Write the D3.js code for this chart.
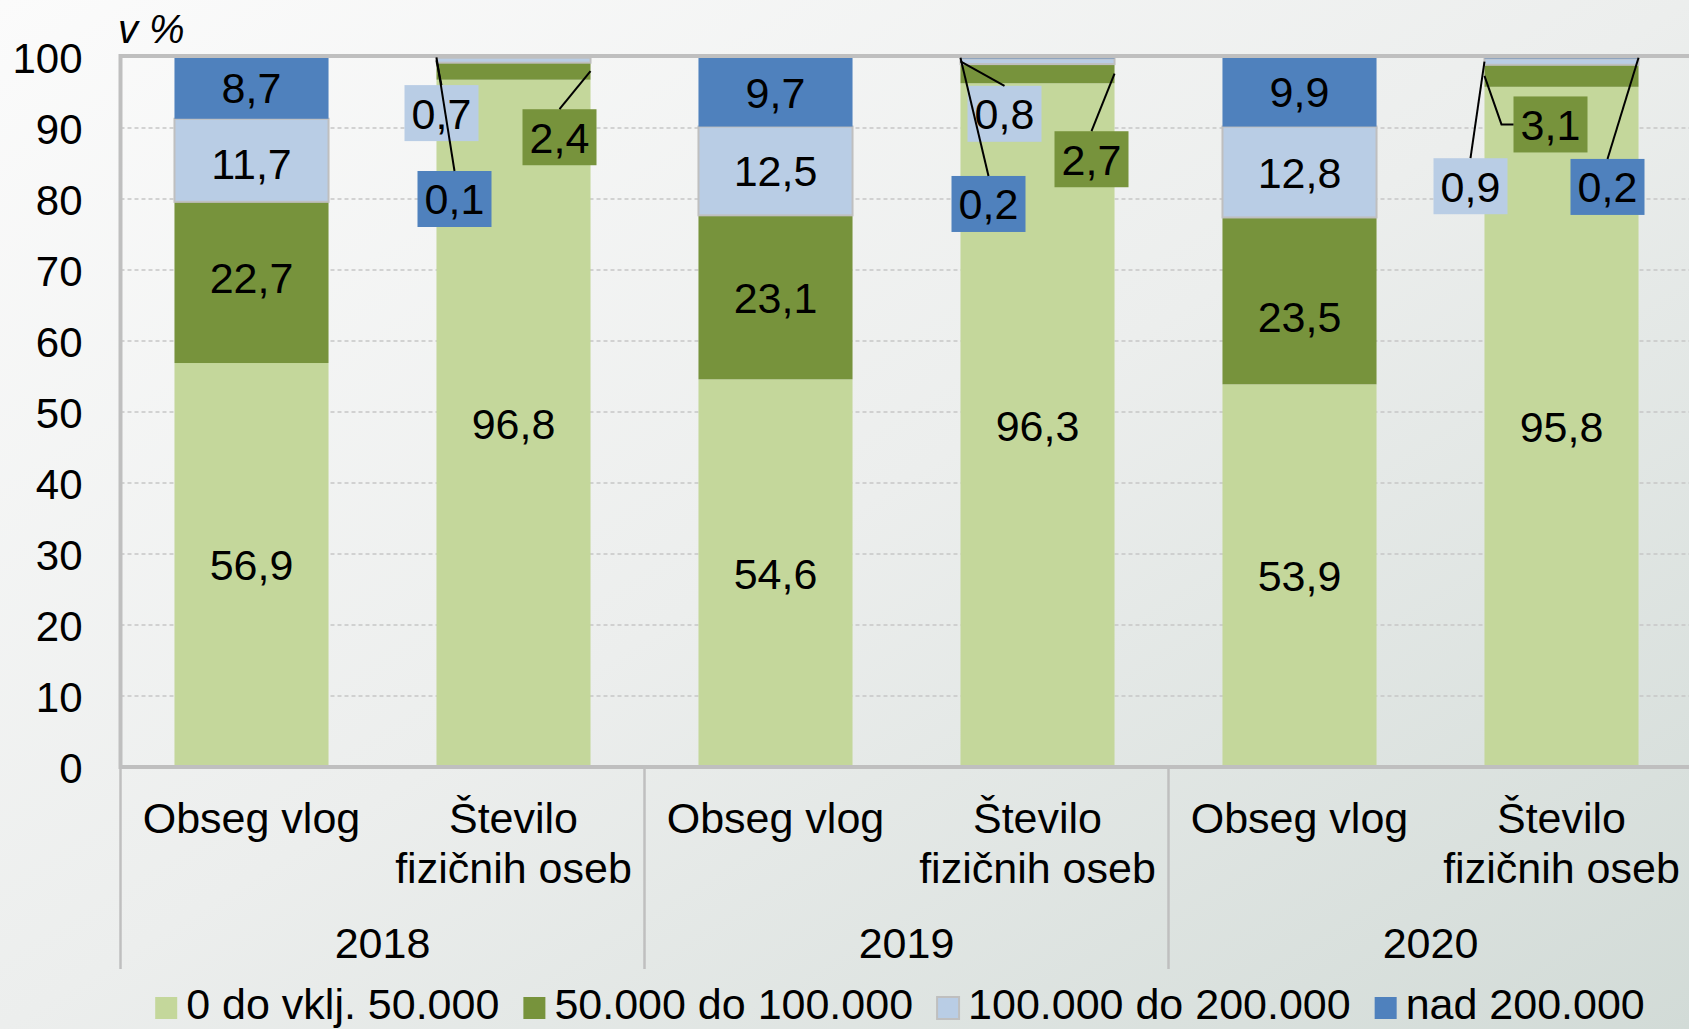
<!DOCTYPE html>
<meta charset="utf-8">
<style>
  body { margin: 0; }
  text { font-family: "Liberation Sans", Arial, sans-serif; fill: #000; }
</style>
<svg width="1689" height="1029"></svg>
<script src="https://cdn.jsdelivr.net/npm/d3@7"></script>
<script>

var years = ["2018", "2019", "2020"];
var measures = [["Obseg vlog"], ["Število", "fizičnih oseb"]];
var keys = ["0 do vklj. 50.000", "50.000 do 100.000", "100.000 do 200.000", "nad 200.000"];

// one value per bar: 2018 obseg, 2018 stevilo, 2019 obseg, ...
var upTo50k   = [56.9, 96.8, 54.6, 96.3, 53.9, 95.8];
var to100k    = [22.7, 2.4, 23.1, 2.7, 23.5, 3.1];
var to200k    = [11.7, 0.7, 12.5, 0.8, 12.8, 0.9];
var over200k  = [8.7, 0.1, 9.7, 0.2, 9.9, 0.2];
var yTicks = [0, 10, 20, 30, 40, 50, 60, 70, 80, 90, 100];

var colors = ["#c4d79b", "#77933c", "#b9cde5", "#4f81bd"];

// small slices get a label box beside the bar (dx in px from bar centre, v = box centre on y scale)
var callouts = [
  {bar: 1, s: 2, dx: -72, v: 92.1},
  {bar: 1, s: 3, dx: -59, v: 80},
  {bar: 1, s: 1, dx: 46, v: 88.7},
  {bar: 3, s: 2, dx: -33, v: 92},
  {bar: 3, s: 3, dx: -49, v: 79.3},
  {bar: 3, s: 1, dx: 54, v: 85.6},
  {bar: 5, s: 1, dx: -11, v: 90.5, elbow: true},
  {bar: 5, s: 2, dx: -91, v: 81.8},
  {bar: 5, s: 3, dx: 46, v: 81.7}
];

// excel doesn't quite centre some of the in-bar labels
var labelNudge = {"0-1": -5, "0-2": 3, "4-1": 16};

var svg = d3.select("svg"),
    width = 1689,
    height = 1029,
    x0 = 120.5,
    x1 = x0 + 6 * 262,
    fs = 43;

var rows = upTo50k.map(function(v, i) {
  var r = {bar: i, year: years[Math.floor(i / 2)], measure: measures[i % 2]};
  r[keys[0]] = upTo50k[i];
  r[keys[1]] = to100k[i];
  r[keys[2]] = to200k[i];
  r[keys[3]] = over200k[i];
  return r;
});

var series = d3.stack().keys(keys)(rows);

var x = d3.scaleBand()
    .domain(rows.map(function(d) { return d.bar; }))
    .range([x0, x1])
    .paddingInner(0.412)
    .paddingOuter(0.206);

var xYear = d3.scaleBand().domain(years).range([x0, x1]);

var y = d3.scaleLinear().domain([0, 100]).range([767, 57]);

var fmt = function(v) { return d3.format(".1f")(v).replace(".", ","); };

// background
var defs = svg.append("defs");
var grad = defs.append("linearGradient").attr("id", "bg")
    .attr("x1", 0).attr("y1", 0).attr("x2", 1).attr("y2", 1);
grad.append("stop").attr("offset", 0).attr("stop-color", "#fbfbfb");
grad.append("stop").attr("offset", 0.5).attr("stop-color", "#eceeed");
grad.append("stop").attr("offset", 1).attr("stop-color", "#d2dbd7");
svg.append("rect").attr("width", width).attr("height", height).attr("fill", "url(#bg)");

// gridlines
svg.append("g").selectAll("line")
  .data(yTicks.filter(function(t) { return t > 0 && t < 100; }))
  .join("line")
    .attr("x1", x0).attr("x2", x1)
    .attr("y1", function(d) { return y(d); })
    .attr("y2", function(d) { return y(d); })
    .attr("stroke", "#c6c6c6")
    .attr("stroke-width", 1.3)
    .attr("stroke-dasharray", "4,3");

// bars
svg.append("g").selectAll("g")
  .data(series)
  .join("g")
    .attr("fill", function(d, i) { return colors[i]; })
    .attr("stroke", function(d, i) { return i == 2 ? "#bfbfbf" : "none"; })
    .attr("stroke-width", 2)
  .selectAll("rect")
  .data(function(d) { return d; })
  .join("rect")
    .attr("x", function(d) { return x(d.data.bar); })
    .attr("width", x.bandwidth())
    .attr("y", function(d) { return y(d[1]); })
    .attr("height", function(d) { return y(d[0]) - y(d[1]); });

// labels inside bars
svg.append("g").selectAll("g")
  .data(series)
  .join("g")
  .selectAll("text")
  .data(function(d, si) {
    return d.filter(function(p) { return p[1] - p[0] >= 5; })
            .map(function(p) { p.key = p.data.bar + "-" + si; return p; });
  })
  .join("text")
    .attr("x", function(d) { return x(d.data.bar) + x.bandwidth() / 2; })
    .attr("y", function(d) { return y((d[0] + d[1]) / 2) + (labelNudge[d.key] || 0); })
    .attr("dy", "0.36em")
    .attr("text-anchor", "middle")
    .attr("font-size", fs)
    .text(function(d) { return fmt(d[1] - d[0]); });

// plot frame
svg.append("rect")
    .attr("x", x0).attr("y", y(100) - 1)
    .attr("width", x1 - x0).attr("height", y(0) - y(100) + 1)
    .attr("fill", "none")
    .attr("stroke", "#bfbfbf")
    .attr("stroke-width", 4);

// callouts
var boxW = 74, boxH = 56;
function calloutGeom(c) {
  var seg = series[c.s][c.bar],
      left = x(c.bar),
      right = left + x.bandwidth(),
      side = c.dx > 0 ? right : left,
      cx = left + x.bandwidth() / 2 + c.dx,
      cy = y(c.v);
  var start = [side, y((seg[0] + seg[1]) / 2)];
  var pts = c.elbow
      ? [start, [side + 17, cy], [cx - boxW / 2, cy]]
      : [start, [cx, cy - boxH / 2]];
  return {cx: cx, cy: cy, pts: pts, value: seg[1] - seg[0]};
}
var cg = callouts.map(function(c) { var g = calloutGeom(c); g.s = c.s; return g; });

var cl = svg.append("g");
cl.selectAll("rect")
  .data(cg)
  .join("rect")
    .attr("x", function(d) { return d.cx - boxW / 2; })
    .attr("y", function(d) { return d.cy - boxH / 2; })
    .attr("width", boxW).attr("height", boxH)
    .attr("fill", function(d) { return colors[d.s]; });
cl.selectAll("path")
  .data(cg)
  .join("path")
    .attr("d", function(d) { return d3.line()(d.pts); })
    .attr("fill", "none")
    .attr("stroke", "#000")
    .attr("stroke-width", 2);
cl.selectAll("text")
  .data(cg)
  .join("text")
    .attr("x", function(d) { return d.cx; })
    .attr("y", function(d) { return d.cy; })
    .attr("dy", "0.36em")
    .attr("text-anchor", "middle")
    .attr("font-size", fs)
    .text(function(d) { return fmt(d.value); });

// y axis
var yAxis = svg.append("g")
    .attr("transform", "translate(" + x0 + ",0)")
    .call(d3.axisLeft(y).tickValues(yTicks).tickSize(0).tickPadding(38).tickFormat(d3.format("d")));
yAxis.select(".domain").remove();
yAxis.selectAll("text").attr("font-size", 42).attr("font-family", null).attr("dy", "0.36em");

svg.append("text")
    .attr("x", 118).attr("y", 43)
    .attr("font-size", 40)
    .attr("font-style", "italic")
    .text("v %");

// x axis: categories, then years
var xa = svg.append("g");
xa.selectAll("line")
  .data(years.concat(["end"]))
  .join("line")
    .attr("x1", function(d) { return d == "end" ? x1 : xYear(d); })
    .attr("x2", function(d) { return d == "end" ? x1 : xYear(d); })
    .attr("y1", y(0)).attr("y2", 969)
    .attr("stroke", "#bfbfbf")
    .attr("stroke-width", 2.5);

xa.selectAll("text.cat")
  .data(rows)
  .join("text")
    .attr("class", "cat")
    .attr("text-anchor", "middle")
    .attr("font-size", fs)
  .selectAll("tspan")
  .data(function(d) { return d.measure.map(function(t) { return {t: t, bar: d.bar}; }); })
  .join("tspan")
    .attr("x", function(d) { return x(d.bar) + x.bandwidth() / 2; })
    .attr("y", function(d, i) { return 833 + i * 50; })
    .text(function(d) { return d.t; });

xa.selectAll("text.year")
  .data(years)
  .join("text")
    .attr("class", "year")
    .attr("x", function(d) { return xYear(d) + xYear.bandwidth() / 2; })
    .attr("y", 958)
    .attr("text-anchor", "middle")
    .attr("font-size", fs)
    .text(function(d) { return d; });

// legend
var legend = svg.append("g");
var items = legend.selectAll("g")
  .data(keys)
  .join("g");
items.append("rect")
    .attr("y", 997).attr("width", 22).attr("height", 22)
    .attr("fill", function(d, i) { return colors[i]; })
    .attr("stroke", function(d, i) { return i == 2 ? "#bfbfbf" : "none"; })
    .attr("stroke-width", 2);
items.append("text")
    .attr("x", 31).attr("y", 1019)
    .attr("font-size", fs)
    .text(function(d) { return d; });

var pos = [], cur = 0;
items.each(function() {
  pos.push(cur);
  cur += 31 + this.querySelector("text").getComputedTextLength() + 24;
});
var start = 900 - (cur - 24) / 2;
items.attr("transform", function(d, i) { return "translate(" + (start + pos[i]) + ",0)"; });

</script>
